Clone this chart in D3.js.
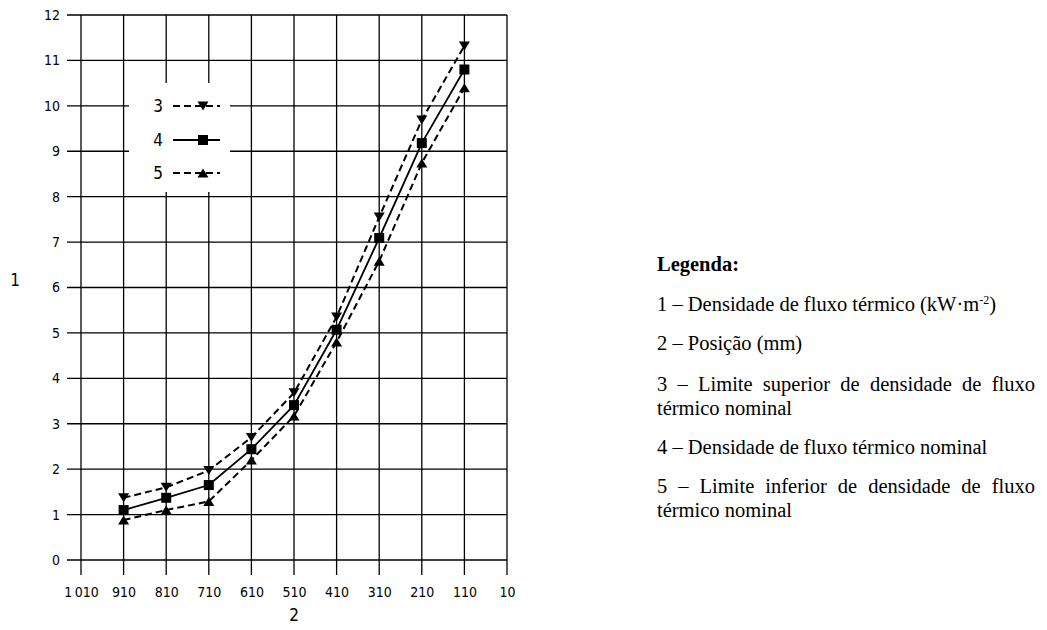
<!DOCTYPE html>
<html>
<head>
<meta charset="utf-8">
<script src="https://cdn.jsdelivr.net/npm/d3@7"></script>
<style>
  html, body { margin: 0; padding: 0; background: #fff; }
  svg { display: block; }
  .num { font-family: "Liberation Sans Narrow", "DejaVu Sans Condensed", sans-serif; font-size: 14px; fill: #000; }
  .leg { font-family: "Liberation Serif", "Times New Roman", serif; font-size: 20.5px; fill: #000; }
</style>
</head>
<body>
<svg id="chart" width="1047" height="630"></svg>
<script>
// ---- data ----
const positions = [910, 810, 710, 610, 510, 410, 310, 210, 110];          // mm
const upperLimit = [1.37, 1.6, 1.97, 2.7, 3.68, 5.35, 7.55, 9.69, 11.32];  // series 3
const nominal    = [1.1, 1.37, 1.65, 2.44, 3.41, 5.07, 7.09, 9.18, 10.8];  // series 4
const lowerLimit = [0.88, 1.1, 1.29, 2.2, 3.17, 4.8, 6.58, 8.74, 10.4];    // series 5
const xTicks = [1010, 910, 810, 710, 610, 510, 410, 310, 210, 110, 10];
const xTickLabels = ["1\u2009010", "910", "810", "710", "610", "510", "410", "310", "210", "110", "10"];
const yTicks = [0, 1, 2, 3, 4, 5, 6, 7, 8, 9, 10, 11, 12];
const seriesKeys = ["3", "4", "5"];
const legendTitle = "Legenda:";

const svg = d3.select("#chart");
const x = d3.scaleLinear().domain([1010, 10]).range([81, 507]);
const y = d3.scaleLinear().domain([0, 12]).range([560, 15]);

// ---- grid + axes ----
const grid = svg.append("g").attr("stroke", "#000").attr("stroke-width", 1.3);
grid.selectAll("line.v").data(xTicks).join("line")
  .attr("x1", d => x(d)).attr("x2", d => x(d))
  .attr("y1", y(12)).attr("y2", y(0) + 15);
grid.selectAll("line.h").data(yTicks).join("line")
  .attr("x1", x(1010) - 14).attr("x2", x(10))
  .attr("y1", d => y(d)).attr("y2", d => y(d));

const yAxis = svg.append("g").attr("transform", `translate(${x(1010) - 14},0)`)
  .call(d3.axisLeft(y).tickValues(yTicks).tickSize(0).tickPadding(7));
yAxis.select(".domain").remove();
yAxis.selectAll("text").attr("class", "num").attr("font-family", null).attr("font-size", null);

const xAxis = svg.append("g").attr("transform", `translate(0,${y(0) + 15})`)
  .call(d3.axisBottom(x).tickValues(xTicks).tickSize(0).tickPadding(12)
    .tickFormat((d, i) => xTickLabels[i]));
xAxis.select(".domain").remove();
xAxis.selectAll("text").attr("class", "num").attr("font-family", null).attr("font-size", null);

// axis titles
svg.append("text").attr("class", "num").attr("x", 15).attr("y", 286)
  .attr("text-anchor", "middle").style("font-size", "17px").text("1");
svg.append("text").attr("class", "num").attr("x", x(510)).attr("y", 621)
  .attr("text-anchor", "middle").style("font-size", "17px").text("2");

// ---- series ----
const series = [
  { key: "3", values: upperLimit, dash: "7,4", width: 2, marker: "down" },
  { key: "4", values: nominal, dash: null, width: 1.8, marker: "square" },
  { key: "5", values: lowerLimit, dash: "7,4", width: 2, marker: "up" }
];
const line = d3.line().x(d => x(d[0])).y(d => y(d[1]));
const triDown = "M-5.5,-4.5L5.5,-4.5L0,4.5Z";
const triUp = "M-5.5,4.5L5.5,4.5L0,-4.5Z";
function drawMarker(g, type) {
  if (type === "square") g.append("rect").attr("x", -5).attr("y", -5).attr("width", 10).attr("height", 10).attr("fill", "#000");
  else g.append("path").attr("d", type === "down" ? triDown : triUp).attr("fill", "#000");
}
series.forEach(s => {
  const pts = positions.map((p, i) => [p, s.values[i]]);
  svg.append("path").datum(pts).attr("d", line)
    .attr("fill", "none").attr("stroke", "#000").attr("stroke-width", s.width)
    .attr("stroke-dasharray", s.dash);
  pts.forEach(p => {
    const g = svg.append("g").attr("transform", `translate(${x(p[0])},${y(p[1])})`);
    drawMarker(g, s.marker);
  });
});

// ---- inner legend ----
svg.append("rect").attr("x", 129).attr("y", 83).attr("width", 101).attr("height", 109).attr("fill", "#fff");
const legY = [106, 140, 173];
series.forEach((s, i) => {
  svg.append("text").attr("class", "num").attr("x", 158).attr("y", legY[i] + 6)
    .attr("text-anchor", "middle").style("font-size", "17px").text(seriesKeys[i]);
  svg.append("line").attr("x1", 173).attr("x2", 220).attr("y1", legY[i]).attr("y2", legY[i])
    .attr("stroke", "#000").attr("stroke-width", s.width).attr("stroke-dasharray", s.dash);
  const g = svg.append("g").attr("transform", `translate(203,${legY[i]})`);
  drawMarker(g, s.marker);
});

// ---- right-hand legend text ----
const lx = 657, rx = 1035;
svg.append("text").attr("class", "leg").attr("x", lx).attr("y", 271)
  .style("font-weight", "bold").text(legendTitle);

const t1 = svg.append("text").attr("class", "leg").attr("x", lx).attr("y", 311);
t1.append("tspan").text("1 \u2013 Densidade de fluxo térmico (kW\u00b7m");
t1.append("tspan").attr("dy", -7).style("font-size", "12px").text("-2");
t1.append("tspan").attr("dy", 7).text(")");

svg.append("text").attr("class", "leg").attr("x", lx).attr("y", 350).text("2 \u2013 Posição (mm)");

function justified(str, yy) {
  const words = str.split(" ");
  const g = svg.append("g");
  const nodes = words.map(w => g.append("text").attr("class", "leg").attr("y", yy).text(w));
  const widths = nodes.map(n => n.node().getComputedTextLength());
  const total = d3.sum(widths);
  const gap = (rx - lx - total) / (words.length - 1);
  let cx = lx;
  nodes.forEach((n, i) => { n.attr("x", cx); cx += widths[i] + gap; });
}
justified("3 \u2013 Limite superior de densidade de fluxo", 391);
svg.append("text").attr("class", "leg").attr("x", lx).attr("y", 415).text("térmico nominal");
svg.append("text").attr("class", "leg").attr("x", lx).attr("y", 454).text("4 \u2013 Densidade de fluxo térmico nominal");
justified("5 \u2013 Limite inferior de densidade de fluxo", 493);
svg.append("text").attr("class", "leg").attr("x", lx).attr("y", 517).text("térmico nominal");
</script>
</body>
</html>
